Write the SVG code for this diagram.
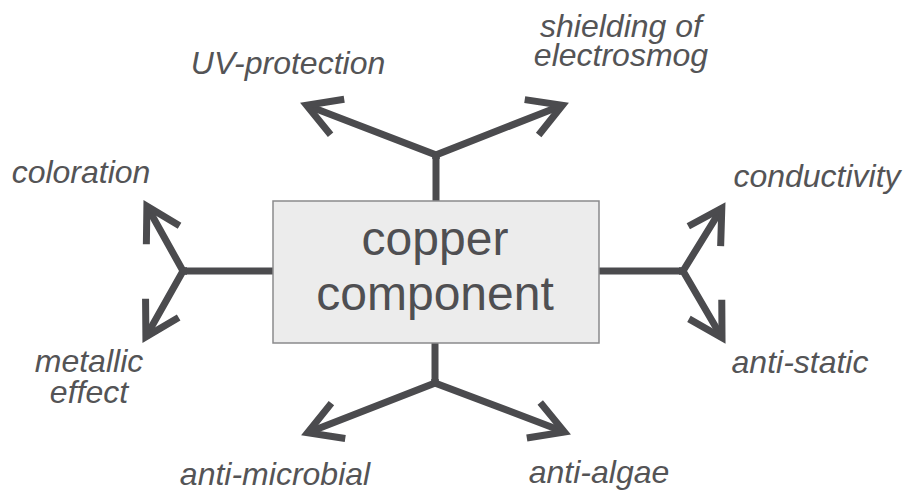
<svg xmlns="http://www.w3.org/2000/svg" width="903" height="493" viewBox="0 0 903 493">
<style>
.lbl{font-family:"Liberation Sans",Arial,sans-serif;font-style:italic;font-size:32px;fill:#545456;text-anchor:middle}
.main{font-family:"Liberation Sans",Arial,sans-serif;font-size:48px;fill:#4f4f52;text-anchor:middle}
.ln{fill:none;stroke:#4b4b4e;stroke-width:7;stroke-linejoin:miter;marker-end:url(#ah)}
.stem{fill:none;stroke:#4b4b4e;stroke-width:7}
</style>
<defs>
<marker id="ah" markerUnits="userSpaceOnUse" orient="auto" markerWidth="60" markerHeight="60" refX="0" refY="0" overflow="visible">
<path d="M-33,-19 L0,0 L-33,19" fill="none" stroke="#4b4b4e" stroke-width="7" stroke-linejoin="miter"/>
</marker>
</defs>
<rect width="903" height="493" fill="#ffffff"/>
<g id="connectors">
<path class="stem" d="M436,201 L436,155"/>
<path class="ln" d="M436,159 L436,155 L306.6,105.2"/>
<path class="ln" d="M436,159 L436,155 L562.4,105.2"/>
<path class="stem" d="M273,271 L183,271"/>
<path class="ln" d="M187,271 L183,271 L146.9,206.2"/>
<path class="ln" d="M187,271 L183,271 L145.9,336.8"/>
<path class="stem" d="M599,271 L683,271"/>
<path class="ln" d="M679,271 L683,271 L721.8,208.1"/>
<path class="ln" d="M679,271 L683,271 L722,337.8"/>
<path class="stem" d="M435,343 L435,383"/>
<path class="ln" d="M435,379 L435,383 L307.6,432.8"/>
<path class="ln" d="M435,379 L435,383 L564.4,431.9"/>
</g>
<g id="copper-component">
<rect x="273" y="201" width="326" height="142" fill="#ececec" stroke="#8a8a8c" stroke-width="1.5"/>
<text class="main" x="435" y="255">copper</text>
<text class="main" x="435" y="310">component</text>
</g>
<g id="uv-protection"><text class="lbl" x="288" y="74">UV-protection</text></g>
<g id="shielding"><text class="lbl" x="621" y="37">shielding of</text><text class="lbl" x="621" y="66">electrosmog</text></g>
<g id="coloration"><text class="lbl" x="81" y="183">coloration</text></g>
<g id="metallic-effect"><text class="lbl" x="89" y="372">metallic</text><text class="lbl" x="89" y="403">effect</text></g>
<g id="conductivity"><text class="lbl" x="817" y="187">conductivity</text></g>
<g id="anti-static"><text class="lbl" x="800" y="373">anti-static</text></g>
<g id="anti-microbial"><text class="lbl" x="275" y="485">anti-microbial</text></g>
<g id="anti-algae"><text class="lbl" x="599" y="483">anti-algae</text></g>
</svg>
